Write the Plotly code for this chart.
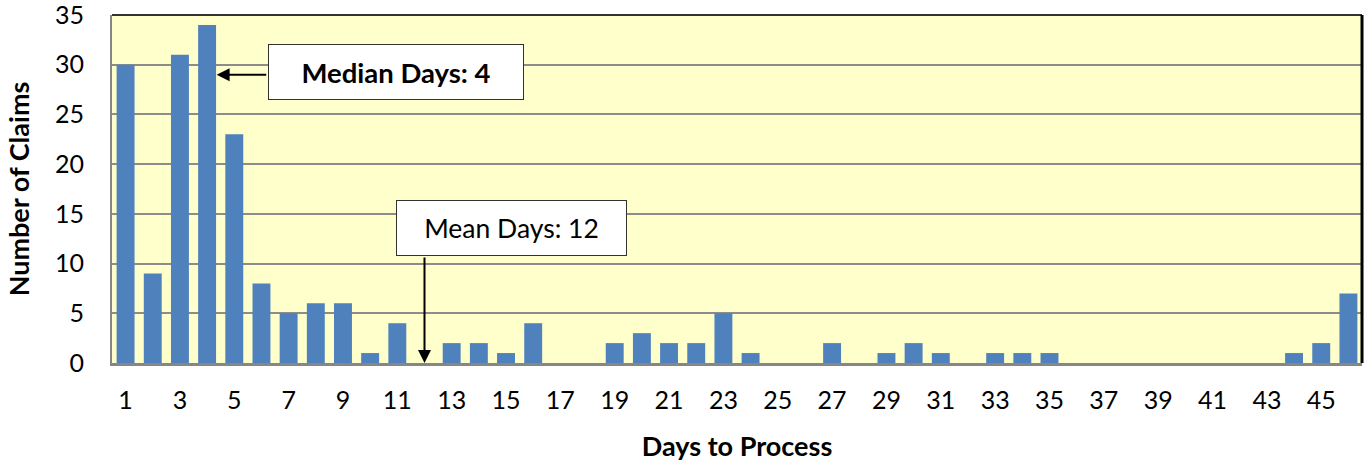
import plotly.graph_objects as go

days = list(range(1, 47))
claims = [30, 9, 31, 34, 23, 8, 5, 6, 6, 1,
          4, 0, 2, 2, 1, 4, 0, 0, 2, 3,
          2, 2, 5, 1, 0, 0, 2, 0, 1, 2,
          1, 0, 1, 1, 1, 0, 0, 0, 0, 0,
          0, 0, 0, 1, 2, 7]
x_ticks = list(range(1, 46, 2))
y_ticks = list(range(0, 36, 5))
median_day = 4
mean_day = 12

FONT = "Lato"

fig = go.Figure()
fig.add_trace(go.Bar(
    x=days, y=claims,
    marker=dict(color="#4F81BD", line=dict(color="#B9CDE5", width=0)),
    width=0.66,
))

fig.update_layout(
    width=1368, height=462,
    margin=dict(l=112, r=6, t=15, b=99),
    paper_bgcolor="white",
    plot_bgcolor="#FFFFCC",
    showlegend=False,
    font=dict(family=FONT, color="black"),
    xaxis=dict(
        range=[0.5, 46.5], automargin=False,
        tickmode="array", tickvals=x_ticks, ticktext=[str(v) for v in x_ticks],
        tickfont=dict(size=25, family=FONT),
        showgrid=False, zeroline=False,
        showline=True, linecolor="#868686", linewidth=3,
        ticks="", ticklabelstandoff=13,
        title=dict(text="<b>Days to Process</b>", font=dict(size=27, family=FONT), standoff=27),
        fixedrange=True,
    ),
    yaxis=dict(
        range=[0, 35], automargin=False,
        tickmode="array", tickvals=y_ticks,
        tickfont=dict(size=25, family=FONT),
        showgrid=True, gridcolor="#8C8C8C", gridwidth=2,
        zeroline=False,
        showline=True, linecolor="#868686", linewidth=2,
        ticks="", ticklabelstandoff=21, ticklabeloverflow="allow",
        title=dict(text="<b>Number of Claims</b>", font=dict(size=27, family=FONT), standoff=18),
        fixedrange=True,
    ),
)

# plot frame: dark top and right edges
fig.add_shape(type="line", xref="paper", yref="paper", x0=0, x1=1, y0=1, y1=1,
              line=dict(color="#333333", width=2))
fig.add_shape(type="line", xref="paper", yref="paper", x0=1, x1=1, y0=0, y1=1,
              line=dict(color="black", width=3))

# median annotation box and arrow
fig.add_annotation(x=10.96, y=29.28, xref="x", yref="y", showarrow=False,
                   text="<b>Median Days: 4</b>", font=dict(size=27.5, family=FONT),
                   bgcolor="white", bordercolor="#333333", borderwidth=1,
                   width=254, height=54, borderpad=0, align="center", valign="middle")
fig.add_annotation(x=median_day + 0.35, y=29, ax=6.23, ay=29, xref="x", yref="y",
                   axref="x", ayref="y", text="", showarrow=True,
                   arrowhead=2, arrowsize=1.3, arrowwidth=2, arrowcolor="black")

# mean annotation box and arrow
fig.add_annotation(x=15.21, y=13.58, xref="x", yref="y", showarrow=False,
                   text="Mean Days: 12", font=dict(size=26.5, family=FONT),
                   bgcolor="white", bordercolor="#333333", borderwidth=1,
                   width=229, height=54, borderpad=0, align="center", valign="middle")
fig.add_annotation(x=mean_day, y=0, ax=mean_day, ay=10.76, xref="x", yref="y",
                   axref="x", ayref="y", text="", showarrow=True,
                   arrowhead=2, arrowsize=1.3, arrowwidth=2, arrowcolor="black")

fig.write_html("out.html", config={"displayModeBar": False},
               post_script="document.body.style.margin='0';")
